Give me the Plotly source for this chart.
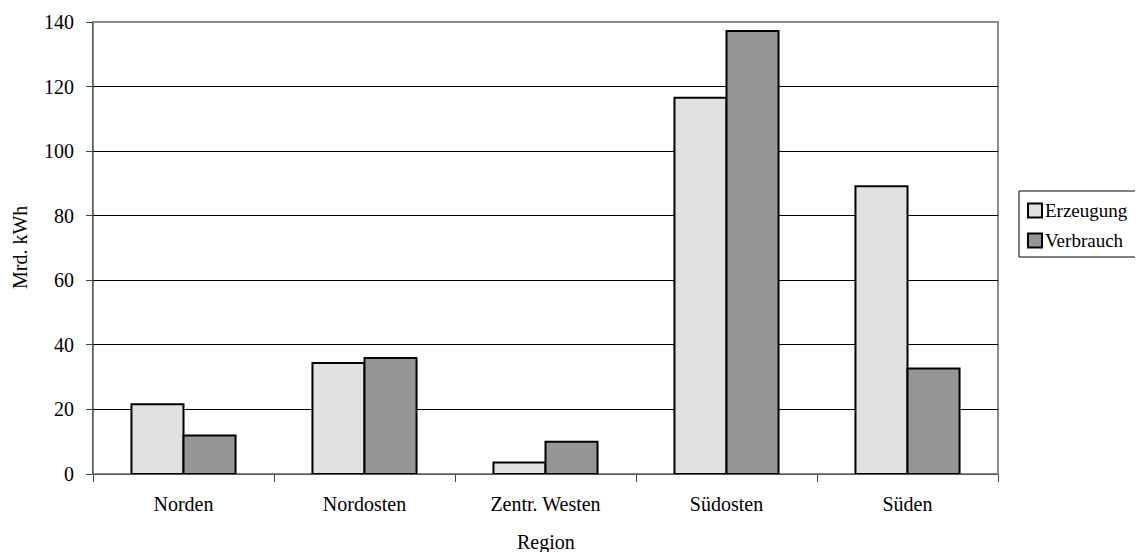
import plotly.graph_objects as go

regions = ["Norden", "Nordosten", "Zentr. Westen", "Südosten", "Süden"]
erzeugung = [21.6, 34.4, 3.6, 116.5, 89.1]
verbrauch = [11.9, 35.9, 10.0, 137.2, 32.7]
y_ticks = [0, 20, 40, 60, 80, 100, 120, 140]
series_names = ["Erzeugung", "Verbrauch"]
series_colors = ["#e1e1e1", "#969696"]

FAM = "Liberation Serif"
font = dict(family=FAM, color="black", size=20)

fig = go.Figure()
for name, vals, col in zip(series_names, [erzeugung, verbrauch], series_colors):
    fig.add_trace(go.Bar(x=regions, y=vals, name=name,
                         marker=dict(color=col, line=dict(color="black", width=2))))

# plot area in page pixels: x 93..998, y 22..474 (figure offset by 8px body margin)
def px(xp):
    return (xp - 93) / 905.0

def py(yp):
    return (474 - yp) / 452.0

fig.update_layout(
    width=1135, height=544,
    margin=dict(l=85, r=145, t=14, b=78),
    paper_bgcolor="white", plot_bgcolor="white",
    font=font,
    barmode="group", bargap=0.425, bargroupgap=0,
    showlegend=False,
    xaxis=dict(
        tickson="boundaries", ticks="outside", ticklen=7, tickcolor="#444",
        showline=True, linecolor="#555", linewidth=1,
        showgrid=False, tickfont=dict(family=FAM, size=20),
        ticklabelstandoff=12, automargin=False,
    ),
    yaxis=dict(
        range=[0, 140], tickvals=y_ticks, ticks="outside", ticklen=6, tickcolor="#444",
        showline=True, linecolor="#555", linewidth=1,
        showgrid=True, gridcolor="black", gridwidth=1,
        zeroline=False, tickfont=dict(family=FAM, size=20),
        ticklabelstandoff=8, automargin=False,
    ),
)
fig.add_shape(type="rect", xref="paper", yref="paper", x0=0, y0=0, x1=1, y1=1,
              line=dict(color="#8c8c8c", width=2), layer="below")

# axis titles
fig.add_annotation(text="Region", xref="paper", yref="paper", x=0.5, y=py(542),
                   xanchor="center", yanchor="middle", showarrow=False,
                   font=dict(family=FAM, size=20))
fig.add_annotation(text="Mrd. kWh", xref="paper", yref="paper", x=px(20), y=0.5,
                   xanchor="center", yanchor="middle", textangle=-90, showarrow=False,
                   font=dict(family=FAM, size=20))

# legend box
fig.add_shape(type="rect", xref="paper", yref="paper", x0=px(1019), x1=px(1138),
              y0=py(257), y1=py(191), line=dict(color="black", width=1),
              fillcolor="white")
for i, (name, col) in enumerate(zip(series_names, series_colors)):
    cy = 210.5 + i * 30
    fig.add_shape(type="rect", xref="paper", yref="paper",
                  x0=px(1028), x1=px(1042), y0=py(cy + 7), y1=py(cy - 7),
                  line=dict(color="black", width=2), fillcolor=col)
    fig.add_annotation(text=name, xref="paper", yref="paper", x=px(1043), y=py(cy),
                       xanchor="left", yanchor="middle", showarrow=False,
                       font=dict(family=FAM, size=19))

fig.write_html("out.html")
